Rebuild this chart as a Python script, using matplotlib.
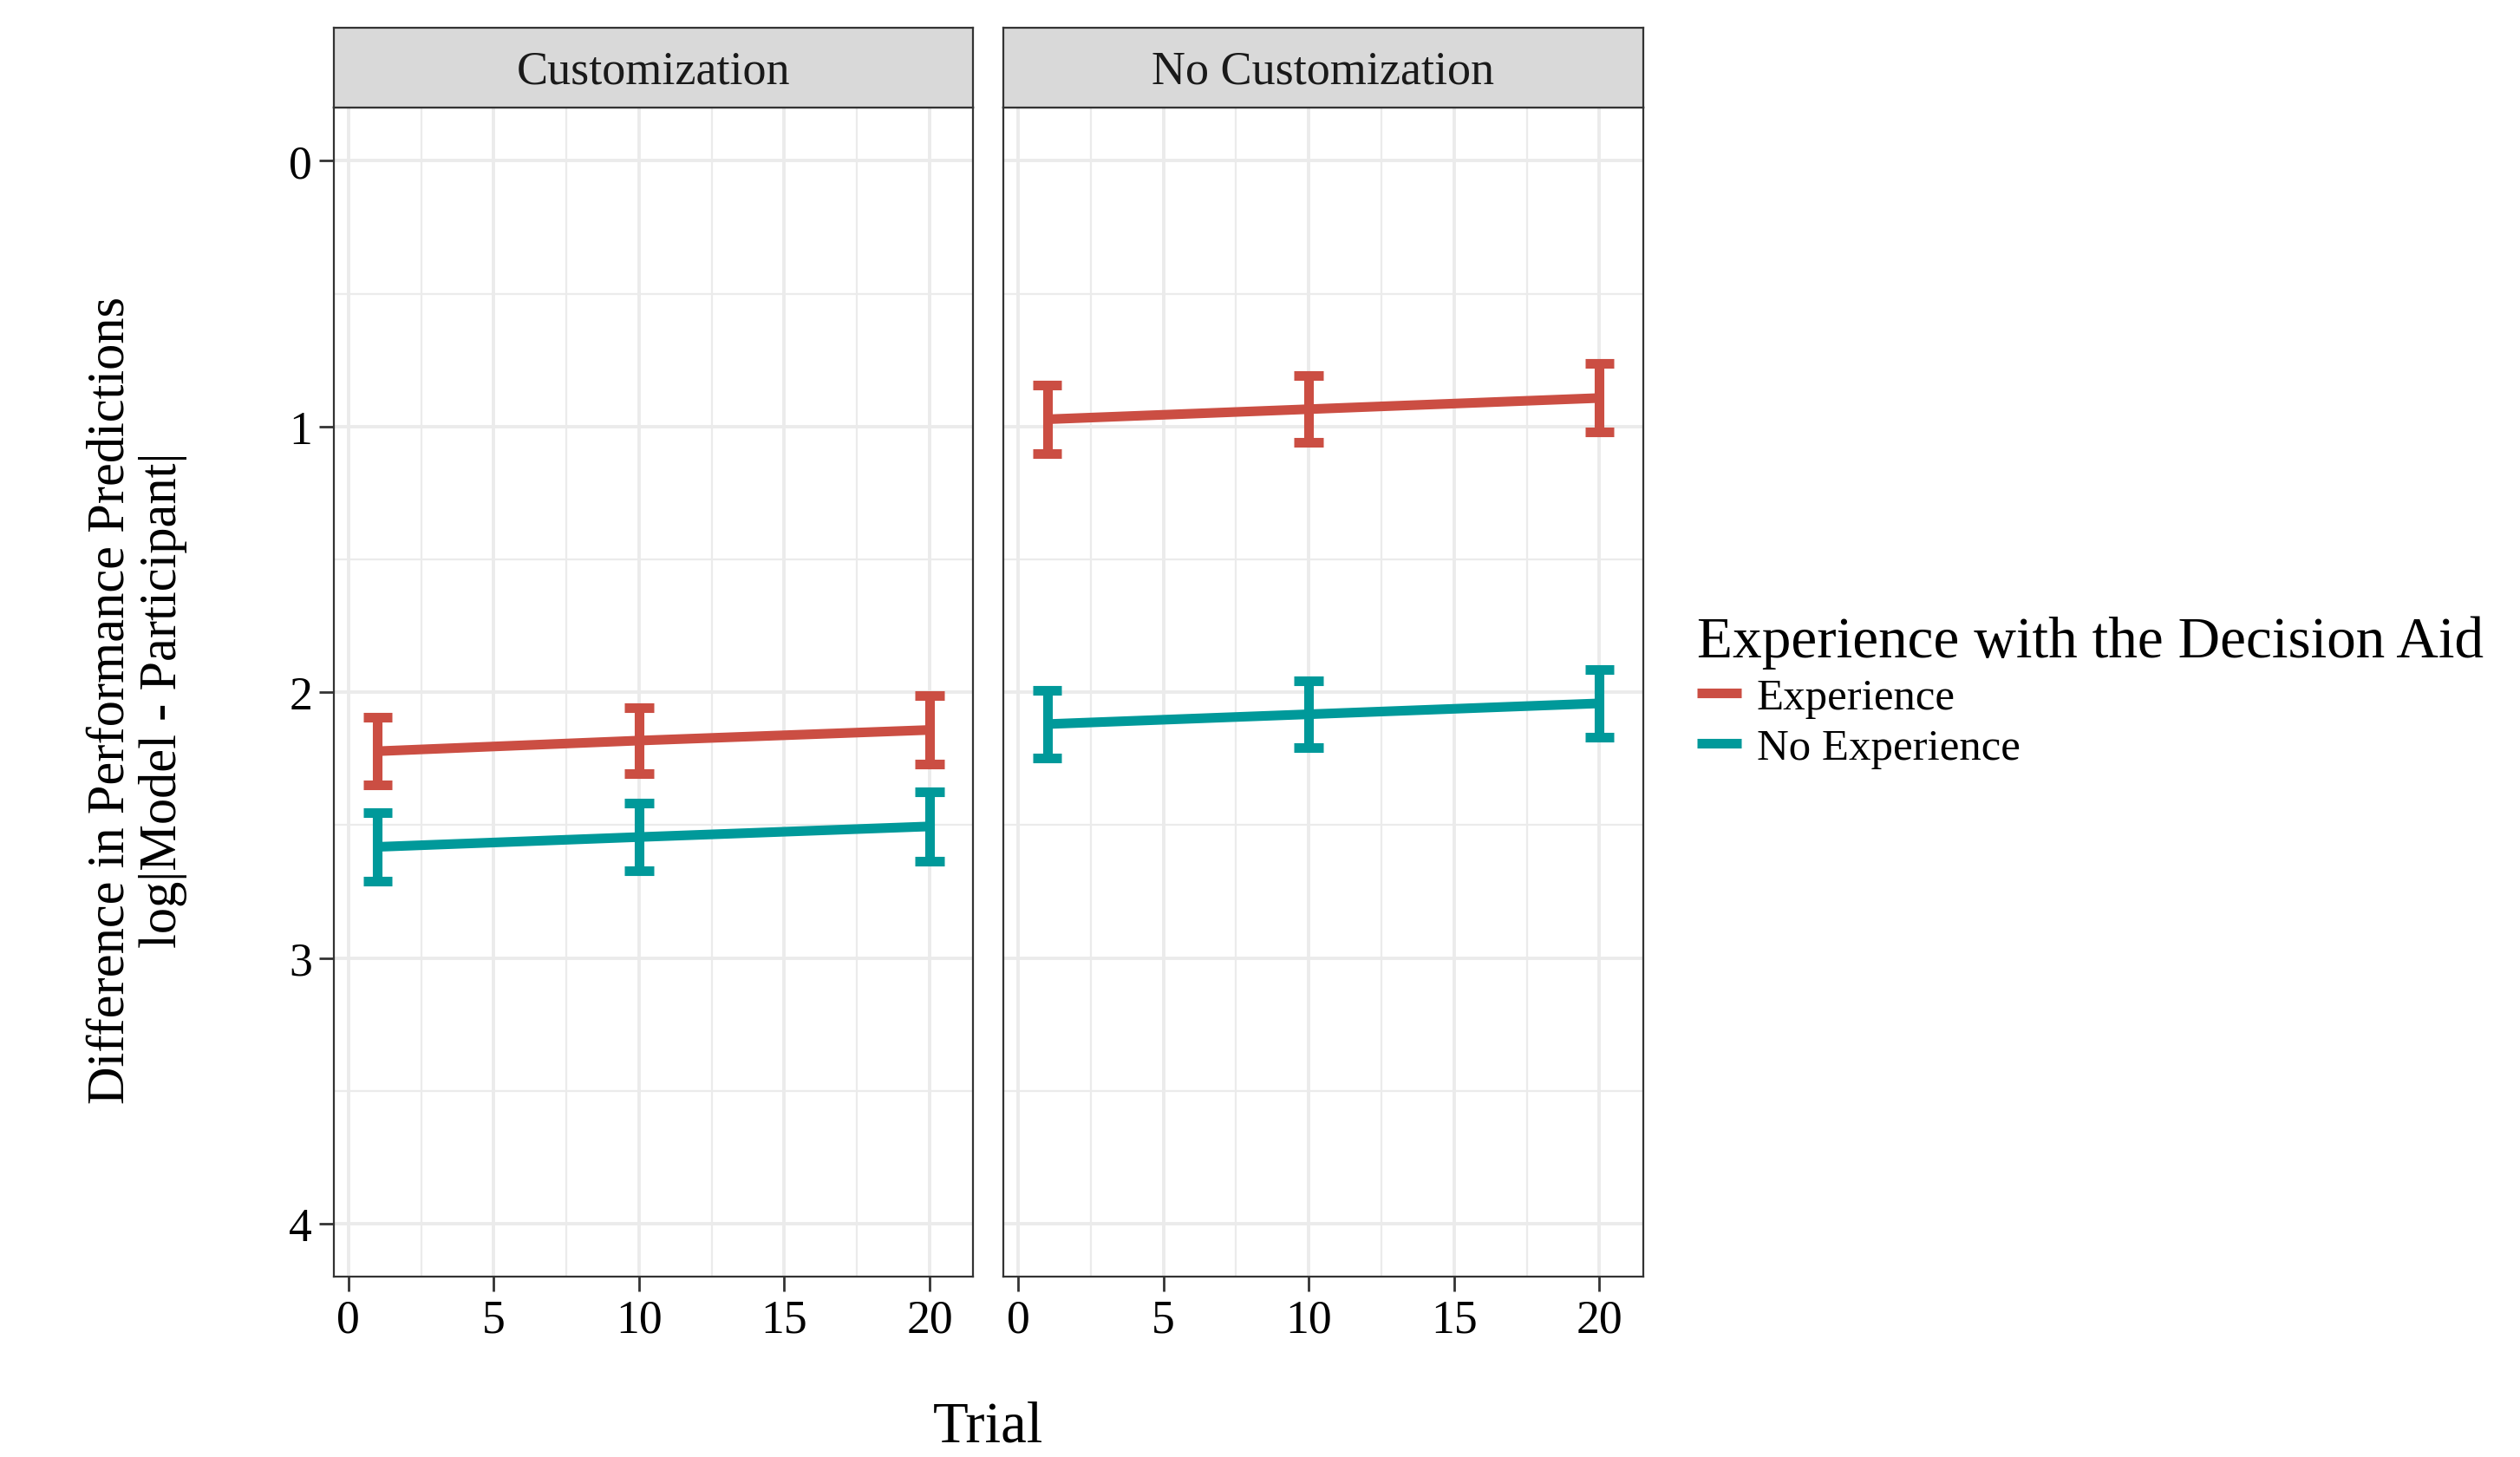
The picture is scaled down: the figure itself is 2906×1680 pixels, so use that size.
import numpy as np
import matplotlib
matplotlib.use("Agg")
import matplotlib.pyplot as plt
from matplotlib.lines import Line2D

plt.rcParams['font.family'] = ['Liberation Serif', 'DejaVu Serif']

# ---- data ----
trials = [1, 10, 20]
panels = ["Customization", "No Customization"]
groups = ["Experience", "No Experience"]
colors = ["#CB4E43", "#00999A"]

# mean log|Model - Participant| per panel / group
cust_exp = [2.222, 2.182, 2.142]
cust_noexp = [2.582, 2.545, 2.505]
nocust_exp = [0.973, 0.935, 0.893]
nocust_noexp = [2.120, 2.083, 2.042]

# half-height of the error bars
cust_exp_err = [0.128, 0.125, 0.129]
cust_noexp_err = [0.130, 0.127, 0.131]
nocust_exp_err = [0.130, 0.126, 0.129]
nocust_noexp_err = [0.128, 0.126, 0.127]

means = [[cust_exp, cust_noexp], [nocust_exp, nocust_noexp]]
errs = [[cust_exp_err, cust_noexp_err], [nocust_exp_err, nocust_noexp_err]]

x_ticks = [0, 5, 10, 15, 20]
y_ticks = [0, 1, 2, 3, 4]
bar_width = 1.0
lw = 4.0
border = "#333333"

W, H = 2906, 1681
fig = plt.figure(figsize=(W / 200, H / 200), dpi=200)


def fx(px):
    return px / W


def fy(px):
    return 1 - px / H


panel_left = [385, 1157.3]
panel_w = 737.3
panel_top, panel_bot = 125, 1473.3
strip_top = 33.3

for i, name in enumerate(panels):
    ax = fig.add_axes([fx(panel_left[i]), fy(panel_bot), panel_w / W, (panel_bot - panel_top) / H])
    ax.set_xlim(-0.5, 21.5)
    ax.set_ylim(4.2, -0.2)
    ax.set_xticks(x_ticks)
    ax.set_xticks([2.5, 7.5, 12.5, 17.5], minor=True)
    ax.set_yticks(y_ticks)
    ax.set_yticks([0.5, 1.5, 2.5, 3.5], minor=True)
    ax.set_axisbelow(True)
    ax.grid(which='major', color='#EBEBEB', linewidth=1.4)
    ax.grid(which='minor', color='#EBEBEB', linewidth=0.8)
    for s in ax.spines.values():
        s.set_color(border)
        s.set_linewidth(0.8)
    ax.tick_params(which='minor', length=0)
    ax.tick_params(which='major', length=6, width=1.0, color=border,
                   labelsize=19.3, pad=3)
    if i > 0:
        ax.tick_params(axis='y', left=False, labelleft=False)

    for g in range(len(groups)):
        m = np.array(means[i][g])
        e = np.array(errs[i][g])
        t = np.array(trials)
        ax.plot(t, m, color=colors[g], linewidth=lw, solid_capstyle='butt')
        ax.vlines(t, m - e, m + e, color=colors[g], linewidth=lw, capstyle='butt')
        ax.hlines(np.concatenate([m - e, m + e]),
                  np.concatenate([t, t]) - bar_width / 2,
                  np.concatenate([t, t]) + bar_width / 2,
                  color=colors[g], linewidth=lw, capstyle='butt')

    # facet strip
    sax = fig.add_axes([fx(panel_left[i]), fy(panel_top), panel_w / W, (panel_top - strip_top) / H])
    sax.set_facecolor('#D9D9D9')
    sax.set_xticks([])
    sax.set_yticks([])
    for s in sax.spines.values():
        s.set_color(border)
        s.set_linewidth(0.8)
    sax.text(0.5, 0.316, name, transform=sax.transAxes, ha='center', va='baseline',
             fontsize=19.5, color='#1A1A1A')

# axis titles
fig.text(fx(1139.7), fy(1663), "Trial", ha='center', va='baseline', fontsize=24)
fig.text(fx(158), fy(807), "Difference in Performance Predictions\nlog|Model - Participant|",
         rotation=90, ha='center', va='center', fontsize=21.8, linespacing=1.1)

# legend
handles = [Line2D([], [], color=c, linewidth=lw, solid_capstyle='butt') for c in colors]
leg = fig.legend(handles, groups, loc='upper left', bbox_to_anchor=(fx(1957), fy(710)),
                 frameon=False, fontsize=18.3, title="Experience with the Decision Aid",
                 title_fontsize=24.2, alignment='left', handlelength=1.0,
                 handletextpad=0.35, labelspacing=0.22, borderpad=0, borderaxespad=0)

fig.savefig("out.png", dpi=200)
